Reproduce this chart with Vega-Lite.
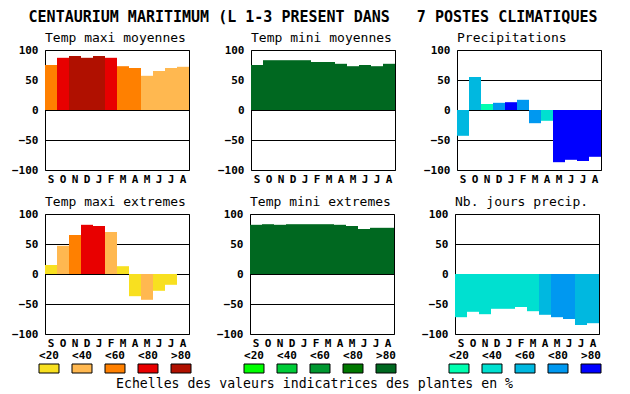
{
  "$schema": "https://vega.github.io/schema/vega-lite/v6.json",
  "padding": {"left": 11, "top": 9, "right": 5, "bottom": 5},
  "title": {"text": "CENTAURIUM MARITIMUM (L 1-3 PRESENT DANS\u00a0\u00a0\u00a07 POSTES CLIMATIQUES", "anchor": "middle", "frame": "bounds", "fontSize": 15, "fontWeight": "bold", "baseline": "alphabetic", "offset": -5, "dx": 4},
  "datasets": {
    "bars": [
      {"p": "tmaxmoy", "m": "Sep", "v": 75, "c": "r3"}, {"p": "tmaxmoy", "m": "Oct", "v": 87, "c": "r4"}, {"p": "tmaxmoy", "m": "Nov", "v": 90, "c": "r5"}, {"p": "tmaxmoy", "m": "Dec", "v": 87, "c": "r5"}, {"p": "tmaxmoy", "m": "Jan", "v": 90, "c": "r5"}, {"p": "tmaxmoy", "m": "Feb", "v": 87, "c": "r4"}, {"p": "tmaxmoy", "m": "Mar", "v": 73, "c": "r3"}, {"p": "tmaxmoy", "m": "Apr", "v": 70, "c": "r3"}, {"p": "tmaxmoy", "m": "May", "v": 57, "c": "r2"}, {"p": "tmaxmoy", "m": "Jun", "v": 65, "c": "r2"}, {"p": "tmaxmoy", "m": "Jul", "v": 70, "c": "r2"}, {"p": "tmaxmoy", "m": "Aug", "v": 72, "c": "r2"},
      {"p": "tminmoy", "m": "Sep", "v": 75, "c": "g5"}, {"p": "tminmoy", "m": "Oct", "v": 83, "c": "g5"}, {"p": "tminmoy", "m": "Nov", "v": 83, "c": "g5"}, {"p": "tminmoy", "m": "Dec", "v": 83, "c": "g5"}, {"p": "tminmoy", "m": "Jan", "v": 83, "c": "g5"}, {"p": "tminmoy", "m": "Feb", "v": 80, "c": "g5"}, {"p": "tminmoy", "m": "Mar", "v": 80, "c": "g5"}, {"p": "tminmoy", "m": "Apr", "v": 77, "c": "g5"}, {"p": "tminmoy", "m": "May", "v": 73, "c": "g5"}, {"p": "tminmoy", "m": "Jun", "v": 75, "c": "g5"}, {"p": "tminmoy", "m": "Jul", "v": 73, "c": "g5"}, {"p": "tminmoy", "m": "Aug", "v": 77, "c": "g5"},
      {"p": "precip", "m": "Sep", "v": -43, "c": "b3"}, {"p": "precip", "m": "Oct", "v": 55, "c": "b3"}, {"p": "precip", "m": "Nov", "v": 10, "c": "b1"}, {"p": "precip", "m": "Dec", "v": 12, "c": "b4"}, {"p": "precip", "m": "Jan", "v": 13, "c": "b5"}, {"p": "precip", "m": "Feb", "v": 17, "c": "b4"}, {"p": "precip", "m": "Mar", "v": -22, "c": "b4"}, {"p": "precip", "m": "Apr", "v": -18, "c": "b2"}, {"p": "precip", "m": "May", "v": -87, "c": "b5"}, {"p": "precip", "m": "Jun", "v": -83, "c": "b5"}, {"p": "precip", "m": "Jul", "v": -85, "c": "b5"}, {"p": "precip", "m": "Aug", "v": -78, "c": "b5"},
      {"p": "tmaxext", "m": "Sep", "v": 15, "c": "r1"}, {"p": "tmaxext", "m": "Oct", "v": 47, "c": "r2"}, {"p": "tmaxext", "m": "Nov", "v": 65, "c": "r3"}, {"p": "tmaxext", "m": "Dec", "v": 82, "c": "r4"}, {"p": "tmaxext", "m": "Jan", "v": 80, "c": "r4"}, {"p": "tmaxext", "m": "Feb", "v": 70, "c": "r2"}, {"p": "tmaxext", "m": "Mar", "v": 13, "c": "r1"}, {"p": "tmaxext", "m": "Apr", "v": -37, "c": "r1"}, {"p": "tmaxext", "m": "May", "v": -43, "c": "r2"}, {"p": "tmaxext", "m": "Jun", "v": -28, "c": "r1"}, {"p": "tmaxext", "m": "Jul", "v": -18, "c": "r1"}, {"p": "tmaxext", "m": "Aug", "v": 0, "c": "r1"},
      {"p": "tminext", "m": "Sep", "v": 82, "c": "g5"}, {"p": "tminext", "m": "Oct", "v": 83, "c": "g5"}, {"p": "tminext", "m": "Nov", "v": 82, "c": "g5"}, {"p": "tminext", "m": "Dec", "v": 83, "c": "g5"}, {"p": "tminext", "m": "Jan", "v": 83, "c": "g5"}, {"p": "tminext", "m": "Feb", "v": 83, "c": "g5"}, {"p": "tminext", "m": "Mar", "v": 83, "c": "g5"}, {"p": "tminext", "m": "Apr", "v": 82, "c": "g5"}, {"p": "tminext", "m": "May", "v": 80, "c": "g5"}, {"p": "tminext", "m": "Jun", "v": 75, "c": "g5"}, {"p": "tminext", "m": "Jul", "v": 77, "c": "g5"}, {"p": "tminext", "m": "Aug", "v": 77, "c": "g5"},
      {"p": "nbjours", "m": "Sep", "v": -72, "c": "b2"}, {"p": "nbjours", "m": "Oct", "v": -63, "c": "b2"}, {"p": "nbjours", "m": "Nov", "v": -67, "c": "b2"}, {"p": "nbjours", "m": "Dec", "v": -58, "c": "b2"}, {"p": "nbjours", "m": "Jan", "v": -58, "c": "b2"}, {"p": "nbjours", "m": "Feb", "v": -55, "c": "b2"}, {"p": "nbjours", "m": "Mar", "v": -62, "c": "b2"}, {"p": "nbjours", "m": "Apr", "v": -68, "c": "b3"}, {"p": "nbjours", "m": "May", "v": -72, "c": "b4"}, {"p": "nbjours", "m": "Jun", "v": -75, "c": "b4"}, {"p": "nbjours", "m": "Jul", "v": -85, "c": "b3"}, {"p": "nbjours", "m": "Aug", "v": -82, "c": "b3"}
    ],
    "leg": [
      {"g": "r", "lab": "<20", "c": "r1"}, {"g": "r", "lab": "<40", "c": "r2"}, {"g": "r", "lab": "<60", "c": "r3"}, {"g": "r", "lab": "<80", "c": "r4"}, {"g": "r", "lab": ">80", "c": "r5"},
      {"g": "g", "lab": "<20", "c": "g1"}, {"g": "g", "lab": "<40", "c": "g2"}, {"g": "g", "lab": "<60", "c": "g3"}, {"g": "g", "lab": "<80", "c": "g4"}, {"g": "g", "lab": ">80", "c": "g5"},
      {"g": "b", "lab": "<20", "c": "b1"}, {"g": "b", "lab": "<40", "c": "b2"}, {"g": "b", "lab": "<60", "c": "b3"}, {"g": "b", "lab": "<80", "c": "b4"}, {"g": "b", "lab": ">80", "c": "b5"}
    ]
  },
  "spacing": 10,
  "vconcat": [
    {
      "hconcat": [
        {"width": 144, "height": 120, "title": {"text": "Temp maxi moyennes"}, "data": {"name": "bars"}, "transform": [{"filter": "datum.p == 'tmaxmoy'"}], "mark": {"type": "bar"},
         "encoding": {
           "x": {"field": "m", "type": "ordinal", "sort": ["Sep","Oct","Nov","Dec","Jan","Feb","Mar","Apr","May","Jun","Jul","Aug"], "scale": {"paddingInner": 0, "paddingOuter": 0}, "axis": {"title": null, "labelExpr": "upper(substring(datum.label,0,1))"}},
           "y": {"field": "v", "type": "quantitative", "scale": {"domain": [-100, 100], "nice": false}, "axis": {"title": null, "values": [-100, -50, 0, 50, 100]}},
           "color": {"field": "c", "type": "nominal", "legend": null, "scale": {"domain": ["r1","r2","r3","r4","r5","g1","g2","g3","g4","g5","b1","b2","b3","b4","b5"], "range": ["#F8E020","#FFB850","#FF8000","#E80000","#B01000","#00FF00","#00CC38","#009830","#007800","#006820","#00FFB0","#00E0D0","#00B8E0","#0098F0","#0000FF"]}}
         }},
        {"width": 144, "height": 120, "title": {"text": "Temp mini moyennes"}, "data": {"name": "bars"}, "transform": [{"filter": "datum.p == 'tminmoy'"}], "mark": {"type": "bar"},
         "encoding": {
           "x": {"field": "m", "type": "ordinal", "sort": ["Sep","Oct","Nov","Dec","Jan","Feb","Mar","Apr","May","Jun","Jul","Aug"], "scale": {"paddingInner": 0, "paddingOuter": 0}, "axis": {"title": null, "labelExpr": "upper(substring(datum.label,0,1))"}},
           "y": {"field": "v", "type": "quantitative", "scale": {"domain": [-100, 100], "nice": false}, "axis": {"title": null, "values": [-100, -50, 0, 50, 100]}},
           "color": {"field": "c", "type": "nominal", "legend": null, "scale": {"domain": ["r1","r2","r3","r4","r5","g1","g2","g3","g4","g5","b1","b2","b3","b4","b5"], "range": ["#F8E020","#FFB850","#FF8000","#E80000","#B01000","#00FF00","#00CC38","#009830","#007800","#006820","#00FFB0","#00E0D0","#00B8E0","#0098F0","#0000FF"]}}
         }},
        {"width": 144, "height": 120, "title": {"text": "Precipitations"}, "data": {"name": "bars"}, "transform": [{"filter": "datum.p == 'precip'"}], "mark": {"type": "bar"},
         "encoding": {
           "x": {"field": "m", "type": "ordinal", "sort": ["Sep","Oct","Nov","Dec","Jan","Feb","Mar","Apr","May","Jun","Jul","Aug"], "scale": {"paddingInner": 0, "paddingOuter": 0}, "axis": {"title": null, "labelExpr": "upper(substring(datum.label,0,1))"}},
           "y": {"field": "v", "type": "quantitative", "scale": {"domain": [-100, 100], "nice": false}, "axis": {"title": null, "values": [-100, -50, 0, 50, 100]}},
           "color": {"field": "c", "type": "nominal", "legend": null, "scale": {"domain": ["r1","r2","r3","r4","r5","g1","g2","g3","g4","g5","b1","b2","b3","b4","b5"], "range": ["#F8E020","#FFB850","#FF8000","#E80000","#B01000","#00FF00","#00CC38","#009830","#007800","#006820","#00FFB0","#00E0D0","#00B8E0","#0098F0","#0000FF"]}}
         }}
      ],
      "spacing": 62,
      "bounds": "flush"
    },
    {
      "title": {"text": "Echelles des valeurs indicatrices des plantes en %", "orient": "bottom", "anchor": "middle", "frame": "bounds", "dx": 5.5, "offset": 14, "fontSize": 13.2, "baseline": "alphabetic"},
      "hconcat": [
        {
          "vconcat": [
            {"width": 144, "height": 120, "title": {"text": "Temp maxi extremes"}, "data": {"name": "bars"}, "transform": [{"filter": "datum.p == 'tmaxext'"}], "mark": {"type": "bar"},
             "encoding": {
               "x": {"field": "m", "type": "ordinal", "sort": ["Sep","Oct","Nov","Dec","Jan","Feb","Mar","Apr","May","Jun","Jul","Aug"], "scale": {"paddingInner": 0, "paddingOuter": 0}, "axis": {"title": null, "labelExpr": "upper(substring(datum.label,0,1))"}},
               "y": {"field": "v", "type": "quantitative", "scale": {"domain": [-100, 100], "nice": false}, "axis": {"title": null, "values": [-100, -50, 0, 50, 100]}},
               "color": {"field": "c", "type": "nominal", "legend": null, "scale": {"domain": ["r1","r2","r3","r4","r5","g1","g2","g3","g4","g5","b1","b2","b3","b4","b5"], "range": ["#F8E020","#FFB850","#FF8000","#E80000","#B01000","#00FF00","#00CC38","#009830","#007800","#006820","#00FFB0","#00E0D0","#00B8E0","#0098F0","#0000FF"]}}
             }},
            {"width": 144, "height": 9, "view": {"stroke": null}, "data": {"name": "leg"}, "transform": [{"filter": "datum.g == 'r'"}], "mark": {"type": "rect", "stroke": "black", "strokeWidth": 1},
             "encoding": {
               "x": {"field": "lab", "type": "ordinal", "sort": ["<20","<40","<60","<80",">80"], "scale": {"range": [-6, 146], "paddingInner": 0.394, "paddingOuter": 0}, "axis": {"title": null, "orient": "top", "labelPadding": 4, "grid": false}},
               "color": {"field": "c", "type": "nominal", "legend": null, "scale": {"domain": ["r1","r2","r3","r4","r5","g1","g2","g3","g4","g5","b1","b2","b3","b4","b5"], "range": ["#F8E020","#FFB850","#FF8000","#E80000","#B01000","#00FF00","#00CC38","#009830","#007800","#006820","#00FFB0","#00E0D0","#00B8E0","#0098F0","#0000FF"]}}
             }}
          ],
          "spacing": 30, "bounds": "flush"
        },
        {
          "vconcat": [
            {"width": 144, "height": 120, "title": {"text": "Temp mini extremes"}, "data": {"name": "bars"}, "transform": [{"filter": "datum.p == 'tminext'"}], "mark": {"type": "bar"},
             "encoding": {
               "x": {"field": "m", "type": "ordinal", "sort": ["Sep","Oct","Nov","Dec","Jan","Feb","Mar","Apr","May","Jun","Jul","Aug"], "scale": {"paddingInner": 0, "paddingOuter": 0}, "axis": {"title": null, "labelExpr": "upper(substring(datum.label,0,1))"}},
               "y": {"field": "v", "type": "quantitative", "scale": {"domain": [-100, 100], "nice": false}, "axis": {"title": null, "values": [-100, -50, 0, 50, 100]}},
               "color": {"field": "c", "type": "nominal", "legend": null, "scale": {"domain": ["r1","r2","r3","r4","r5","g1","g2","g3","g4","g5","b1","b2","b3","b4","b5"], "range": ["#F8E020","#FFB850","#FF8000","#E80000","#B01000","#00FF00","#00CC38","#009830","#007800","#006820","#00FFB0","#00E0D0","#00B8E0","#0098F0","#0000FF"]}}
             }},
            {"width": 144, "height": 9, "view": {"stroke": null}, "data": {"name": "leg"}, "transform": [{"filter": "datum.g == 'g'"}], "mark": {"type": "rect", "stroke": "black", "strokeWidth": 1},
             "encoding": {
               "x": {"field": "lab", "type": "ordinal", "sort": ["<20","<40","<60","<80",">80"], "scale": {"range": [-6, 146], "paddingInner": 0.394, "paddingOuter": 0}, "axis": {"title": null, "orient": "top", "labelPadding": 4, "grid": false}},
               "color": {"field": "c", "type": "nominal", "legend": null, "scale": {"domain": ["r1","r2","r3","r4","r5","g1","g2","g3","g4","g5","b1","b2","b3","b4","b5"], "range": ["#F8E020","#FFB850","#FF8000","#E80000","#B01000","#00FF00","#00CC38","#009830","#007800","#006820","#00FFB0","#00E0D0","#00B8E0","#0098F0","#0000FF"]}}
             }}
          ],
          "spacing": 30, "bounds": "flush"
        },
        {
          "vconcat": [
            {"width": 144, "height": 120, "title": {"text": "Nb. jours precip."}, "data": {"name": "bars"}, "transform": [{"filter": "datum.p == 'nbjours'"}], "mark": {"type": "bar"},
             "encoding": {
               "x": {"field": "m", "type": "ordinal", "sort": ["Sep","Oct","Nov","Dec","Jan","Feb","Mar","Apr","May","Jun","Jul","Aug"], "scale": {"paddingInner": 0, "paddingOuter": 0}, "axis": {"title": null, "labelExpr": "upper(substring(datum.label,0,1))"}},
               "y": {"field": "v", "type": "quantitative", "scale": {"domain": [-100, 100], "nice": false}, "axis": {"title": null, "values": [-100, -50, 0, 50, 100]}},
               "color": {"field": "c", "type": "nominal", "legend": null, "scale": {"domain": ["r1","r2","r3","r4","r5","g1","g2","g3","g4","g5","b1","b2","b3","b4","b5"], "range": ["#F8E020","#FFB850","#FF8000","#E80000","#B01000","#00FF00","#00CC38","#009830","#007800","#006820","#00FFB0","#00E0D0","#00B8E0","#0098F0","#0000FF"]}}
             }},
            {"width": 144, "height": 9, "view": {"stroke": null}, "data": {"name": "leg"}, "transform": [{"filter": "datum.g == 'b'"}], "mark": {"type": "rect", "stroke": "black", "strokeWidth": 1},
             "encoding": {
               "x": {"field": "lab", "type": "ordinal", "sort": ["<20","<40","<60","<80",">80"], "scale": {"range": [-6, 146], "paddingInner": 0.394, "paddingOuter": 0}, "axis": {"title": null, "orient": "top", "labelPadding": 4, "grid": false}},
               "color": {"field": "c", "type": "nominal", "legend": null, "scale": {"domain": ["r1","r2","r3","r4","r5","g1","g2","g3","g4","g5","b1","b2","b3","b4","b5"], "range": ["#F8E020","#FFB850","#FF8000","#E80000","#B01000","#00FF00","#00CC38","#009830","#007800","#006820","#00FFB0","#00E0D0","#00B8E0","#0098F0","#0000FF"]}}
             }}
          ],
          "spacing": 30, "bounds": "flush"
        }
      ],
      "spacing": 19
    }
  ],
  "config": {
    "font": "DejaVu Sans Mono",
    "background": "white",
    "view": {"stroke": "black", "strokeWidth": 1},
    "bar": {"strokeWidth": 0},
    "axis": {"labelFont": "DejaVu Sans Mono", "labelFontWeight": "bold", "labelFontSize": 11, "labelColor": "black", "domain": false, "ticks": false},
    "axisX": {"labelAngle": 0, "labelPadding": 3, "grid": false},
    "axisY": {"grid": true, "gridColor": "black", "gridOpacity": 1, "gridWidth": 1, "labelPadding": 7, "zindex": 1},
    "title": {"font": "DejaVu Sans Mono", "fontSize": 13, "fontWeight": "normal", "anchor": "start", "frame": "group", "color": "black", "baseline": "alphabetic", "offset": -1}
  }
}
